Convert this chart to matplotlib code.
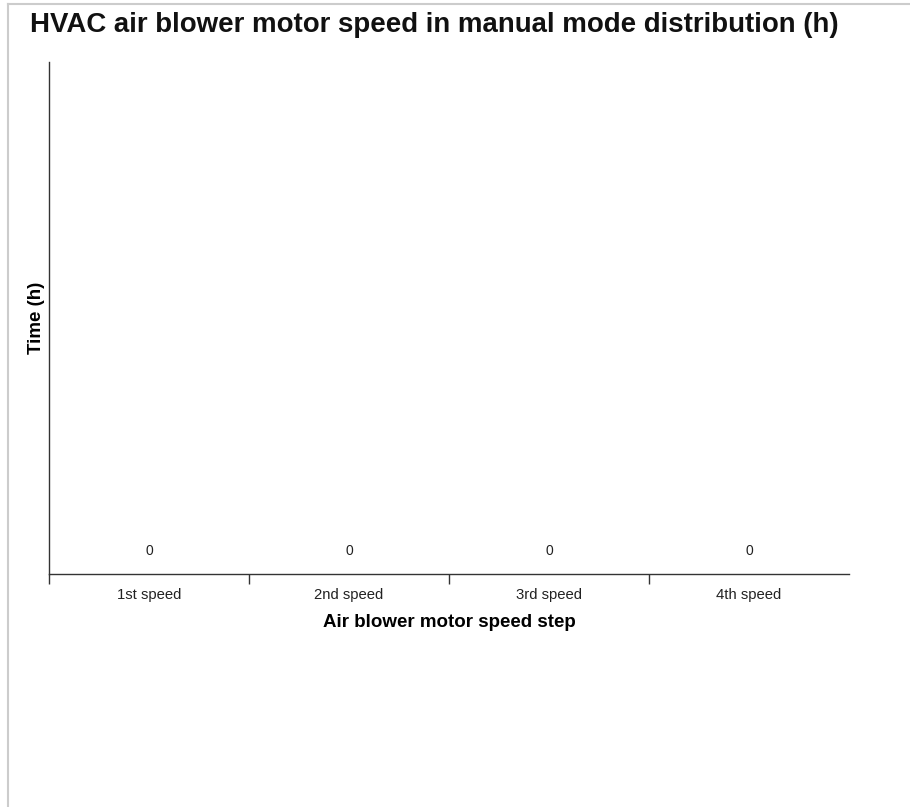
import matplotlib.pyplot as plt
from matplotlib.lines import Line2D

# chart data
speed_steps = ["1st speed", "2nd speed", "3rd speed", "4th speed"]
hours = [0, 0, 0, 0]

plt.rcParams['font.family'] = ['Liberation Sans', 'DejaVu Sans']

fig = plt.figure(figsize=(9.10, 8.07), dpi=100)
ax = fig.add_axes([49 / 910, 1 - 574 / 807, 800 / 910, 512 / 807])

x = list(range(len(speed_steps)))
bars = ax.bar(x, hours, width=0.8, color="#4e79a7")

# value labels above each bar
for rect, val in zip(bars, hours):
    ax.annotate(str(val), (rect.get_x() + rect.get_width() / 2, rect.get_height()),
                xytext=(0, 16.6), textcoords="offset points",
                ha="center", va="center", fontsize=10, color="#222222")

ax.set_xlim(-0.5, len(speed_steps) - 0.5)
ax.set_ylim(0, 1)

# boundary ticks between categories, labels in the middle
ax.set_xticks([i - 0.5 for i in x])
ax.set_xticklabels([])
ax.tick_params(axis="x", which="major", length=7.2, width=1, color="#333333", direction="out")
ax.set_xticks(x, minor=True)
ax.set_xticklabels(speed_steps, minor=True, fontsize=10.7, color="#222222")
ax.tick_params(axis="x", which="minor", length=0, pad=10)
ax.set_yticks([])

for side in ["top", "right"]:
    ax.spines[side].set_visible(False)
for side in ["left", "bottom"]:
    ax.spines[side].set_color("#333333")
    ax.spines[side].set_linewidth(1)

ax.set_xlabel("Air blower motor speed step", fontsize=13.5, fontweight="bold", labelpad=9)
ax.set_ylabel("Time (h)", fontsize=13.5, fontweight="bold", labelpad=3)

fig.text(30 / 910, 1 - 25 / 807, "HVAC air blower motor speed in manual mode distribution (h)",
         ha="left", va="center", fontsize=19.9, fontweight="bold", color="#111111")

# light frame on the top and left edge
fig.add_artist(Line2D([8 / 910, 1], [1 - 4 / 807, 1 - 4 / 807], color="#cccccc", lw=1.5))
fig.add_artist(Line2D([8 / 910, 8 / 910], [0, 1 - 4 / 807], color="#cccccc", lw=1.5))

fig.savefig("out.png", dpi=100)
